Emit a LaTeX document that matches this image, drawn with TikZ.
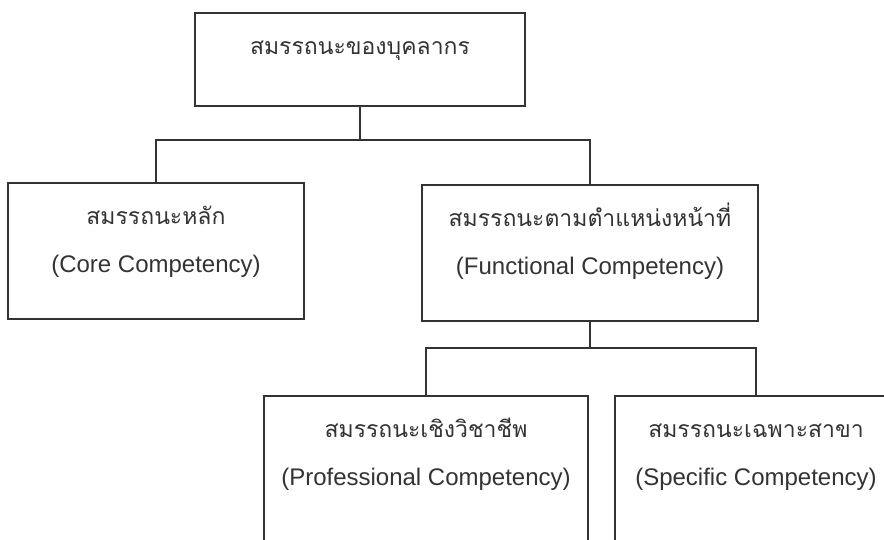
\documentclass[tikz,border=0pt]{standalone}
\usepackage{fontspec}
\setmainfont{Liberation Sans}
\newfontfamily\thaifont[Script=Thai]{Loma}
\usetikzlibrary{calc}
\tikzstyle{box} = [draw=black!80, line width=1.4pt, rectangle, inner sep=0mm]
\tikzstyle{l} = [draw=black!80, line width=1.4pt]
\tikzstyle{th} = [text=black!80, inner sep=0mm, text height=16pt, text depth=0pt, font=\thaifont\fontsize{23}{27}\selectfont]
\tikzstyle{en} = [text=black!80, inner sep=0mm, font=\fontsize{24}{28}\selectfont]

\begin{document}
\begin{tikzpicture}[x=1pt, y=-1pt]
    \useasboundingbox (0,0) rectangle (884,539);
    \clip (0,0) rectangle (884,539);

    % boxes (the lower two run past the page edge)
    \foreach \n/\x/\y/\w/\h in {staff/360/59.5/330/93, core/156/251/296/136, func/590/253/336/136, prof/426/476/324/160, spec/756/476/282/160}
    \node[box, minimum width=\w pt, minimum height=\h pt] (\n) at (\x,\y) {};

    % texts
    \node[th] (staff-th) at ($(staff.north)+(0,34)$) {สมรรถนะของบุคลากร};
    \foreach \b/\t/\e in {core/สมรรถนะหลัก/Core Competency, func/สมรรถนะตามตำแหน่งหน้าที่/Functional Competency, prof/สมรรถนะเชิงวิชาชีพ/Professional Competency, spec/สมรรถนะเฉพาะสาขา/Specific Competency}
    {
        \node[th] (\b-th) at ($(\b.north)+(0,34)$) {\t};
        \node[en] (\b-en) at ($(\b.north)+(0,84)$) {(\e)};
    }

    % connectors
    \coordinate (bus1) at (0,140);
    \coordinate (bus2) at (0,348);
    \draw[l] (staff.south) -- (staff.south |- bus1);
    \draw[l] (core.north) |- (func.north |- bus1) -- (func.north);
    \draw[l] (func.south) -- (func.south |- bus2);
    \draw[l] (prof.north) |- (spec.north |- bus2) -- (spec.north);
\end{tikzpicture}
\end{document}
